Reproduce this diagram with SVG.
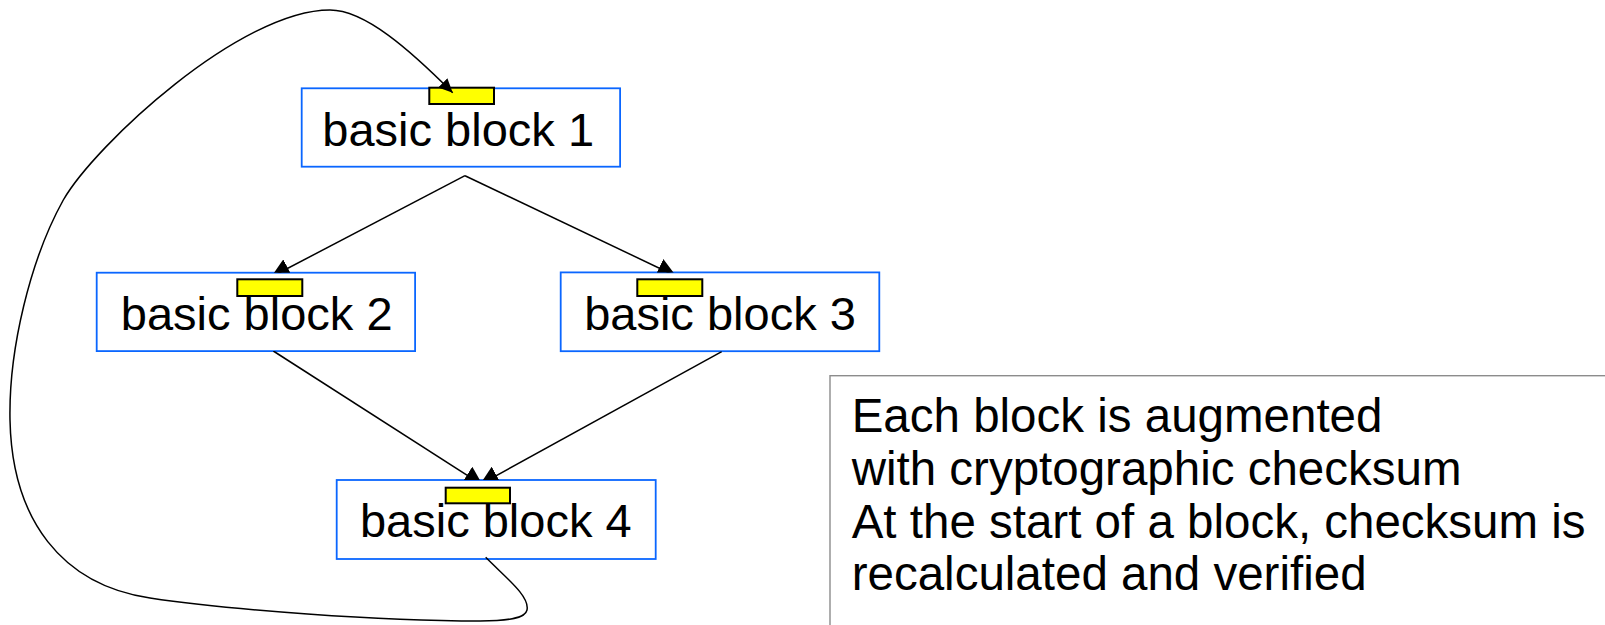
<svg xmlns="http://www.w3.org/2000/svg" width="1605" height="625" viewBox="0 0 1605 625">
  <style>
    .box { fill: #ffffff; stroke: #0a66ff; stroke-width: 1.8; }
    .tag { fill: #ffff00; stroke: #000000; stroke-width: 2; }
    .label { font-family: "Liberation Sans", Arial, sans-serif; font-size: 47px; fill: #000000; text-anchor: middle; }
    .edge { fill: none; stroke: #000000; stroke-width: 1.5; }
    .note-frame { fill: #ffffff; stroke: #8c8c8c; stroke-width: 1.4; }
    .note { font-family: "Liberation Sans", Arial, sans-serif; font-size: 47.5px; fill: #000000; }
  </style>
  <defs>
    <marker id="head" viewBox="0 0 19 20" refX="19" refY="10" markerUnits="userSpaceOnUse" markerWidth="19" markerHeight="20" orient="auto">
      <path d="M0,0 L19,10 L0,20 Z" fill="#000000"/>
    </marker>
    <marker id="head-small" viewBox="0 0 14 13" refX="14" refY="6.5" markerUnits="userSpaceOnUse" markerWidth="14" markerHeight="13" orient="auto">
      <path d="M0,0 L14,6.5 L0,13 Z" fill="#000000"/>
    </marker>
    <!-- everything except the interiors of the four block frames -->
    <clipPath id="outside-blocks">
      <path clip-rule="evenodd" d="M0,0 H1605 V625 H0 Z M301.7,88.3 h318.4 v78.4 h-318.4 Z M96.7,272.7 h318.4 v78.4 h-318.4 Z M560.7,272.4 h318.6 v78.8 h-318.6 Z M336.7,480 h319 v79 h-319 Z"/>
    </clipPath>
  </defs>

  <rect width="1605" height="625" fill="#ffffff"/>

  <g id="block1">
    <rect class="box" x="301.7" y="88.3" width="318.4" height="78.4"/>
    <text class="label" x="458.2" y="145.5">basic block 1</text>
    <rect class="tag" x="429.3" y="87.7" width="64.7" height="16.3"/>
  </g>
  <g id="block2">
    <rect class="box" x="96.7" y="272.7" width="318.4" height="78.4"/>
    <text class="label" x="256.7" y="330">basic block 2</text>
    <rect class="tag" x="237.3" y="279.3" width="65" height="16.7"/>
  </g>
  <g id="block3">
    <rect class="box" x="560.7" y="272.4" width="318.6" height="78.8"/>
    <text class="label" x="720" y="330">basic block 3</text>
    <rect class="tag" x="637.3" y="279.3" width="65" height="16.7"/>
  </g>
  <g id="block4">
    <rect class="box" x="336.7" y="480" width="319" height="79"/>
    <text class="label" x="495.8" y="537.3">basic block 4</text>
    <rect class="tag" x="445.7" y="487.7" width="64.3" height="15.6"/>
  </g>

  <g id="note">
    <rect class="note-frame" x="830" y="375.7" width="800" height="300"/>
    <text class="note" x="851.7" y="432">Each block is augmented</text>
    <text class="note" x="851.7" y="485">with cryptographic checksum</text>
    <text class="note" x="851.7" y="537.5">At the start of a block, checksum is</text>
    <text class="note" x="851.7" y="590">recalculated and verified</text>
  </g>

  <g id="connectors">
    <g clip-path="url(#outside-blocks)">
      <line class="edge" x1="465" y1="175.7" x2="271.1" y2="277" marker-end="url(#head)"/>
      <line class="edge" x1="465" y1="175.7" x2="676.2" y2="276.2" marker-end="url(#head)"/>
      <line class="edge" x1="273.3" y1="351" x2="482.9" y2="485.4" marker-end="url(#head)"/>
      <line class="edge" x1="721.7" y1="351.7" x2="479.9" y2="484.6" marker-end="url(#head)"/>
    </g>
    <!-- back edge: block 4 loops round to the top of block 1 -->
    <path class="edge" marker-end="url(#head-small)" d="M485.7,557.3 C505,577 530,596 527,610 C525.3,618 510,621 480,621 C380,621 230,610 150,598 C62,585 12,520 10,420 C8.6,350 30,260 63.3,200 C95,145 240,10 330,10 C365,10 410,50 452.7,92.7"/>
  </g>
</svg>
